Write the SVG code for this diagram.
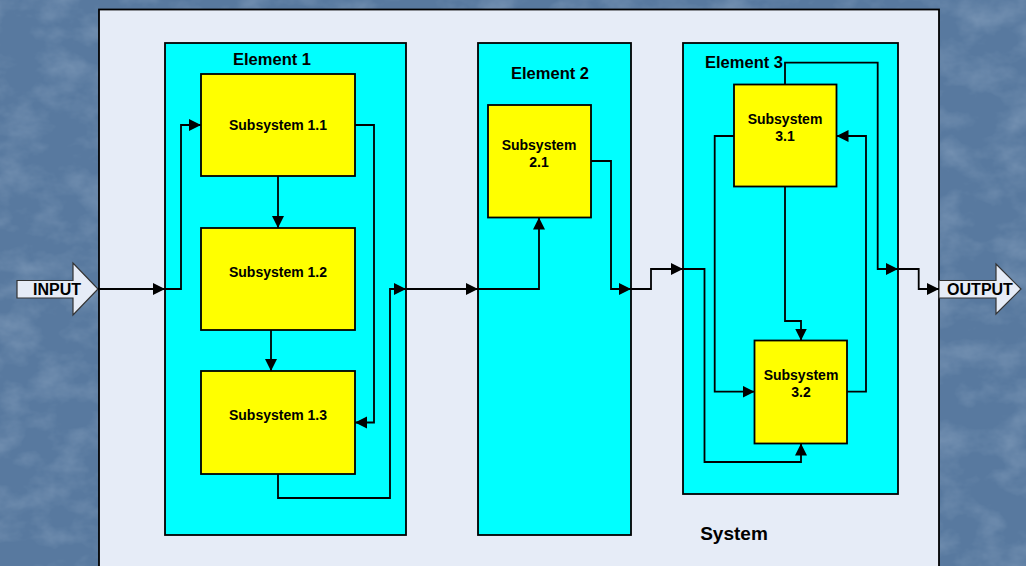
<svg xmlns="http://www.w3.org/2000/svg" width="1026" height="566" viewBox="0 0 1026 566">
<style>
.box{stroke:#000;stroke-width:1.8}
.el{fill:#00FFFF}
.sub{fill:#FFFF00}
.t{font-family:"Liberation Sans",Arial,sans-serif;font-weight:bold;fill:#000;text-anchor:middle}
.et{font-size:16.5px}
.st{font-size:14px}
.io{font-size:16px}
.c path{fill:none;stroke:#000;stroke-width:1.8}
.a{marker-end:url(#ah)}
</style>
<defs>
<marker id="ah" markerWidth="13" markerHeight="13" refX="12" refY="6" orient="auto" markerUnits="userSpaceOnUse"><path d="M0,0 L12,6 L0,12 z" fill="#000"/></marker>
<filter id="tex" x="0" y="0" width="100%" height="100%">
<feTurbulence type="fractalNoise" baseFrequency="0.025 0.035" numOctaves="4" seed="11"/>
<feColorMatrix type="matrix" values="0 0 0 0 0.55  0 0 0 0 0.66  0 0 0 0 0.80  0 0 0 1.2 -0.5"/>
</filter>
</defs>
<g id="background">
<rect x="0" y="0" width="1026" height="566" fill="#58799F"/>
<rect x="0" y="0" width="1026" height="566" filter="url(#tex)" opacity="0.45"/>
</g>
<g id="system">
<rect class="box" x="99" y="9.5" width="840" height="600" fill="#E6ECF7"/>
<text class="t" x="734" y="540" font-size="19px">System</text>
</g>
<g id="element1">
<rect class="box el" x="165" y="43" width="241" height="492"/>
<text class="t et" x="272" y="65">Element 1</text>
</g>
<g id="element2">
<rect class="box el" x="478" y="43" width="153" height="492"/>
<text class="t et" x="550" y="79">Element 2</text>
</g>
<g id="element3">
<rect class="box el" x="683" y="43" width="215" height="451"/>
<text class="t et" x="744" y="68">Element 3</text>
</g>
<g id="sub11">
<rect class="box sub" x="201" y="74" width="154" height="102"/>
<text class="t st" x="278" y="130">Subsystem 1.1</text>
</g>
<g id="sub12">
<rect class="box sub" x="201" y="228" width="154" height="102"/>
<text class="t st" x="278" y="277">Subsystem 1.2</text>
</g>
<g id="sub13">
<rect class="box sub" x="201" y="371" width="154" height="103"/>
<text class="t st" x="278" y="420">Subsystem 1.3</text>
</g>
<g id="sub21">
<rect class="box sub" x="488" y="105" width="103" height="112.5"/>
<text class="t st" x="539" y="150">Subsystem</text>
<text class="t st" x="539" y="167">2.1</text>
</g>
<g id="sub31">
<rect class="box sub" x="734" y="84.5" width="102.5" height="102"/>
<text class="t st" x="785" y="124">Subsystem</text>
<text class="t st" x="785" y="141">3.1</text>
</g>
<g id="sub32">
<rect class="box sub" x="754.5" y="340.5" width="92.5" height="103"/>
<text class="t st" x="801" y="380">Subsystem</text>
<text class="t st" x="801" y="397">3.2</text>
</g>
<g id="input">
<polygon points="17,280.5 73,280.5 73,263 98,289 73,315 73,298 17,298" fill="#E6ECF7" stroke="#333" stroke-width="1.2"/>
<text class="t io" x="57" y="295">INPUT</text>
</g>
<g id="output">
<polygon points="939,280.5 996,280.5 996,264 1021,289 996,314 996,298 939,298" fill="#E6ECF7" stroke="#333" stroke-width="1.2"/>
<text class="t io" x="980" y="295">OUTPUT</text>
</g>
<g id="connectors" class="c">
<path class="a" d="M98,289 H165"/>
<path class="a" d="M165,289 H181 V125 H201"/>
<path class="a" d="M278,176 V228"/>
<path class="a" d="M271,330 V371"/>
<path class="a" d="M355,125 H374 V422.5 H355"/>
<path class="a" d="M278,474 V498 H390 V289 H406"/>
<path class="a" d="M406,289 H478"/>
<path class="a" d="M478,289 H539 V217.5"/>
<path class="a" d="M591,161 H611 V289 H631"/>
<path class="a" d="M631,289 H651 V269 H683"/>
<path class="a" d="M683,269 H704.5 V462 H801 V443.5"/>
<path class="a" d="M734,136 H714.7 V391.7 H754.5"/>
<path class="a" d="M785,186.5 V321 H801 V340.5"/>
<path class="a" d="M847,391.7 H866 V136 H836.5"/>
<path class="a" d="M785,84.5 V62.7 H877.7 V269 H898"/>
<path class="a" d="M898,269 H918.7 V289 H939"/>
</g>
</svg>
